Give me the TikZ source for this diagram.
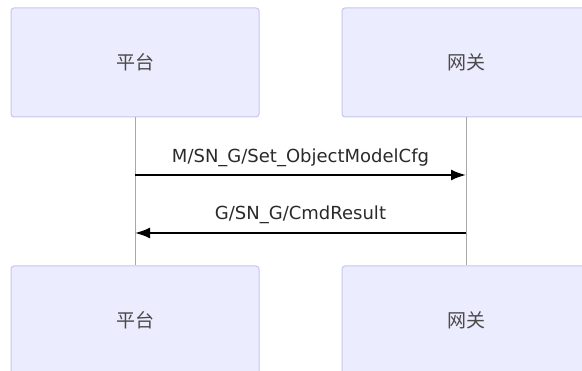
\documentclass[tikz,border=0pt]{standalone}
\usepackage{fontspec}
\setmainfont{DejaVu Sans}
\newfontfamily\cjkfont{Noto Sans CJK SC}
\usetikzlibrary{arrows.meta,positioning}
\definecolor{actorFill}{HTML}{ECECFF}
\definecolor{actorLine}{HTML}{C6C6EC}
\definecolor{lifeGray}{HTML}{A8A8A8}
\definecolor{textGray}{HTML}{2A2A2A}

\begin{document}
\begin{tikzpicture}[x=1pt,y=-1pt,
  actor/.style={draw=actorLine,fill=actorFill,rounded corners=3pt,line width=1pt,
                minimum width=248pt,minimum height=109pt,text=textGray!85,
                font=\cjkfont\fontsize{19}{22}\selectfont},
  lifeline/.style={lifeGray,line width=0.9pt},
  msg/.style={-{Latex[length=15pt,width=11pt]},line width=2pt,black},
  msglabel/.style={font=\fontsize{18}{21}\selectfont,text=textGray,anchor=base}]
\useasboundingbox (0,0) rectangle (582,371);
\clip (0,0) rectangle (582,371);
% actors, top and bottom
\node[actor] (ptTop) at (135,62.5) {平台};
\node[actor] (gwTop) at (466,62.5) {网关};
\node[actor] (ptBot) at (135,320.5) {平台};
\node[actor] (gwBot) at (466,320.5) {网关};
\foreach \x/\y in {ptTop/ptBot, gwTop/gwBot} \draw[lifeline] (\x)--(\y);
% messages
\coordinate (y1) at (0,175);
\coordinate (y2) at (0,233);
\draw[msg] (ptTop |- y1) -- node[msglabel,yshift=12pt] {M/SN\_G/Set\_ObjectModelCfg} (gwTop |- y1);
\draw[msg] (gwTop |- y2) -- node[msglabel,yshift=13pt] {G/SN\_G/CmdResult} (ptTop |- y2);
\end{tikzpicture}
\end{document}
